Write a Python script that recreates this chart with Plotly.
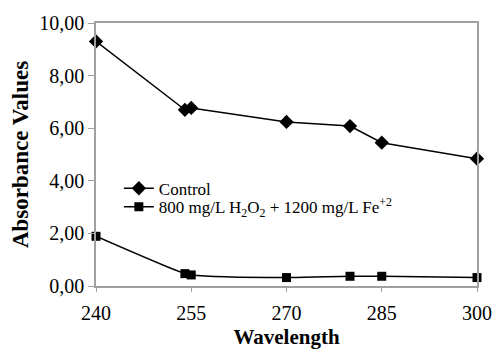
import plotly.graph_objects as go

wavelength = [240, 254, 255, 270, 280, 285, 300]
control = [9.30, 6.70, 6.77, 6.24, 6.08, 5.45, 4.84]
treated = [1.89, 0.47, 0.42, 0.32, 0.37, 0.37, 0.32]
x_ticks = [240, 255, 270, 285, 300]
y_ticks = [0, 2, 4, 6, 8, 10]

font = "Liberation Serif, Times New Roman, serif"

fig = go.Figure()
fig.add_trace(go.Scatter(
    x=wavelength, y=control, name="Control", mode="lines+markers",
    line=dict(color="black", width=1.5),
    marker=dict(symbol="diamond", size=11, color="black"),
    cliponaxis=False, legend="legend"))
fig.add_trace(go.Scatter(
    x=wavelength, y=treated,
    name="800 mg/L H<sub>2</sub>O<sub>2</sub> + 1200 mg/L Fe<sup>+2</sup>",
    mode="lines+markers",
    line=dict(color="black", width=1.5, shape="spline"),
    marker=dict(symbol="square", size=9, color="black"),
    cliponaxis=False, legend="legend2"))

axis_common = dict(showline=True, linecolor="#a0a0a0", linewidth=1.5,
                   showgrid=False, zeroline=False, ticks="outside",
                   tickcolor="#a0a0a0", automargin=False,
                   tickfont=dict(family=font, size=20, color="black"))

legend_common = dict(xanchor="left", yanchor="middle", bgcolor="rgba(0,0,0,0)",
                     font=dict(family=font, size=17, color="black"))

fig.update_layout(
    width=493, height=349,
    margin=dict(l=96, r=16, t=23, b=63),
    paper_bgcolor="white", plot_bgcolor="white",
    separators=",.",
    showlegend=True,
    legend=dict(x=0.06, y=0.37, **legend_common),
    legend2=dict(x=0.06, y=0.30, **legend_common),
    xaxis=dict(range=[240, 300], tickvals=x_ticks, mirror=True, ticklen=4,
               ticklabelstandoff=4,
               title=dict(text="<b>Wavelength</b>", standoff=8,
                          font=dict(family=font, size=21, color="black")),
               **axis_common),
    yaxis=dict(range=[0, 10], tickvals=y_ticks, tickformat=".2f", mirror=True,
               ticklen=6,
               title=dict(text="<b>Absorbance Values</b>", standoff=4,
                          font=dict(family=font, size=23, color="black")),
               **axis_common),
)
fig.write_html("out.html", config={"displayModeBar": False},
               post_script="document.body.style.margin='0';"
                           "document.body.style.overflow='hidden';")
